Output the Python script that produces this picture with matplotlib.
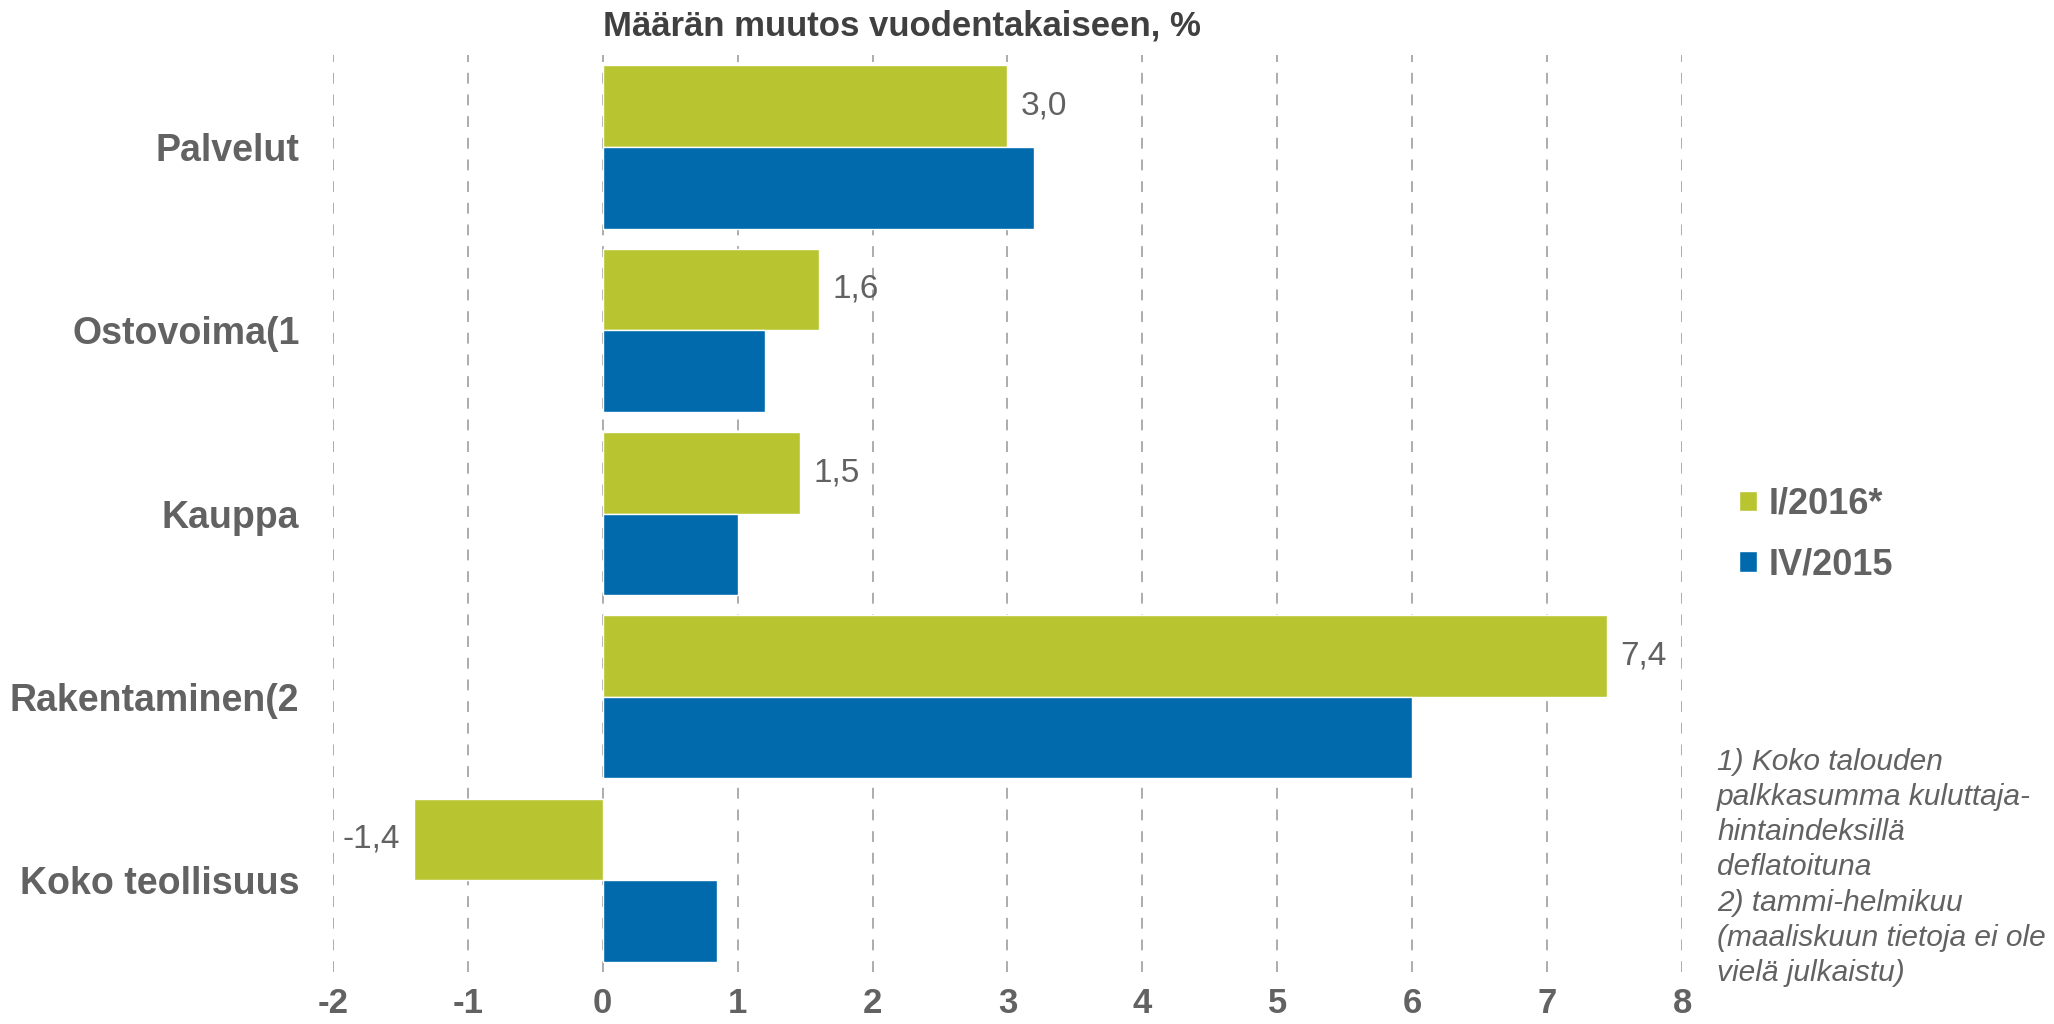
import matplotlib.pyplot as plt
import numpy as np

plt.rcParams['font.family'] = ['Liberation Sans', 'DejaVu Sans']

categories = ["Palvelut", "Ostovoima(1", "Kauppa", "Rakentaminen(2", "Koko teollisuus"]
q1_2016 = [3.0, 1.6, 1.46, 7.44, -1.4]
q4_2015 = [3.2, 1.2, 1.0, 6.0, 0.85]
series_names = ["I/2016*", "IV/2015"]
xticks = [-2, -1, 0, 1, 2, 3, 4, 5, 6, 7, 8]
title = "Määrän muutos vuodentakaiseen, %"
footnote = ("1) Koko talouden\npalkkasumma kuluttaja-\nhintaindeksillä\ndeflatoituna\n"
            "2) tammi-helmikuu\n(maaliskuun tietoja ei ole\nvielä julkaistu)")

green = "#B8C530"
blue = "#006AAD"
gray = "#626262"

fig = plt.figure(figsize=(20.54, 10.24), dpi=100)
ax = fig.add_axes([0.162, 0.051, 0.657, 0.895])

y = np.arange(len(categories))
h = 0.445
ax.barh(y - h / 2, q1_2016, height=h, color=green, edgecolor="white", linewidth=1, label=series_names[0], zorder=3)
ax.barh(y + h / 2, q4_2015, height=h, color=blue, edgecolor="white", linewidth=1, label=series_names[1], zorder=3)

for yi, v in zip(y, q1_2016):
    txt = f"{v:.1f}".replace(".", ",")
    if v >= 0:
        ax.text(v + 0.1, yi - h / 2, txt, ha="left", va="center", fontsize=24, color=gray)
    else:
        ax.text(v - 0.1, yi - h / 2, txt, ha="right", va="center", fontsize=24, color=gray)

ax.set_xlim(-2, 8)
ax.set_ylim(len(categories) - 0.5, -0.5)
ax.set_xticks(xticks)
ax.set_xticklabels([str(t) for t in xticks], fontsize=25, fontweight="bold", color=gray)
ax.set_yticks(y)
ax.set_yticklabels(categories, fontsize=27, fontweight="bold", color=gray)
ax.tick_params(axis="both", length=0)
ax.tick_params(axis="x", pad=11)
ax.tick_params(axis="y", pad=24)
for s in ax.spines.values():
    s.set_visible(False)
ax.xaxis.grid(True, color="#A6A6A6", linestyle=(0, (6, 6)), linewidth=1.3, zorder=0)

# title starts at the zero line
fig.text(0.162 + 0.657 * 0.2, 0.975, title, ha="left", va="center", fontsize=25, fontweight="bold", color="#404040")

leg = fig.legend(loc="center left", bbox_to_anchor=(0.831, 0.478), frameon=False,
                 handlelength=0.5, handleheight=0.5, handletextpad=0.3, labelspacing=0.7,
                 prop={"size": 26, "weight": "bold"})
for t in leg.get_texts():
    t.set_color(gray)

fig.text(0.836, 0.153, footnote, ha="left", va="center", fontsize=21.5, style="italic", color=gray, linespacing=1.33)

fig.savefig("out.png", dpi=100)
